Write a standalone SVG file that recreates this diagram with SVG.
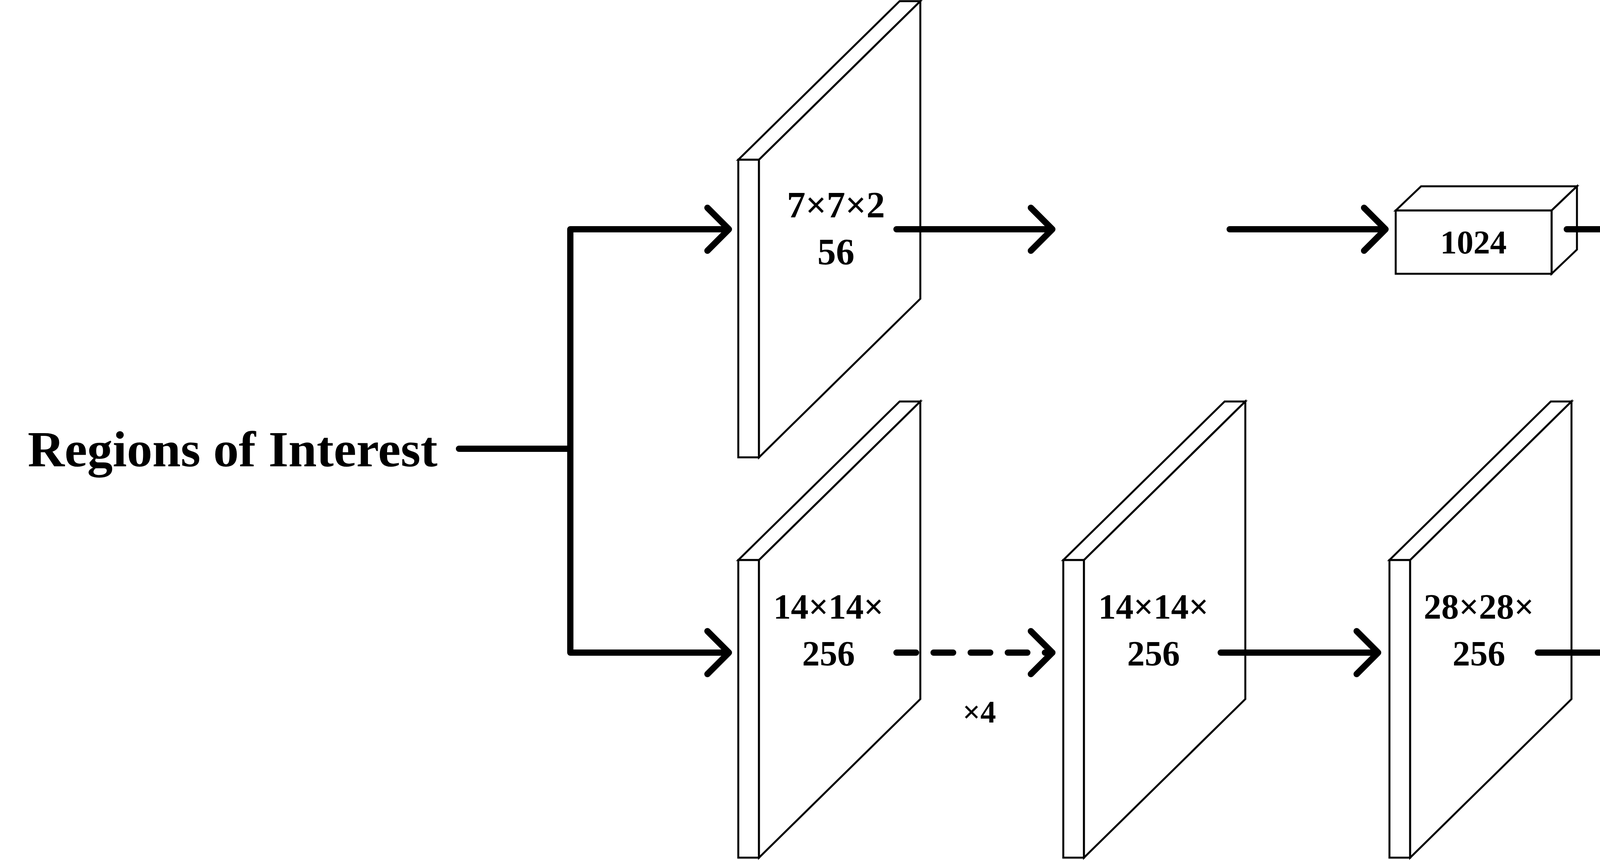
<svg xmlns="http://www.w3.org/2000/svg" width="5089" height="2202" viewBox="0 0 5089 2202">
<style>
.p{fill:#fff;stroke:#000;stroke-width:5;stroke-linejoin:miter}
.t{font-family:"Liberation Serif","Times New Roman",serif;font-weight:bold;fill:#000}
.c{fill:none;stroke:#000;stroke-width:16;stroke-linecap:round;stroke-linejoin:round}
</style>
<defs>
<g id="panel">
<polygon class="p" points="0,406 413,0 466,0 53,406"/>
<rect class="p" x="0" y="406" width="53" height="762"/>
<polygon class="p" points="53,406 466,0 466,762 53,1168"/>
</g>
</defs>
<rect width="5089" height="2202" fill="#fff"/>
<g id="roi"><text class="t" x="71" y="1194" font-size="130" textLength="1049" lengthAdjust="spacingAndGlyphs">Regions of Interest</text></g>
<g id="p1"><use href="#panel" x="1890" y="3"/>
<text class="t" x="2140" y="557" font-size="95" text-anchor="middle">7×7×2</text>
<text class="t" x="2140" y="677" font-size="95" text-anchor="middle">56</text></g>
<g id="p2"><use href="#panel" x="1890" y="1028"/>
<text class="t" x="2121" y="1584" font-size="90" text-anchor="middle">14×14×</text>
<text class="t" x="2121" y="1704" font-size="90" text-anchor="middle">256</text></g>
<g id="p3"><use href="#panel" x="2722" y="1028"/>
<text class="t" x="2953" y="1584" font-size="90" text-anchor="middle">14×14×</text>
<text class="t" x="2953" y="1704" font-size="90" text-anchor="middle">256</text></g>
<g id="p4"><use href="#panel" x="3557" y="1028"/>
<text class="t" x="3786" y="1584" font-size="90" text-anchor="middle">28×28×</text>
<text class="t" x="3786" y="1704" font-size="90" text-anchor="middle">256</text></g>
<g id="p5"><use href="#panel" x="4372" y="1028"/>
<text class="t" x="4596" y="1584" font-size="90" text-anchor="middle">28×28×</text>
<text class="t" x="4511" y="1704" font-size="90" text-anchor="middle">80</text></g>
<g id="fc">
<polygon class="p" points="3573,539 3638,477 4037,477 3972,539"/>
<polygon class="p" points="3972,539 4037,477 4037,639 3972,701"/>
<rect class="p" x="3573" y="539" width="399" height="162"/>
<text class="t" x="3772" y="649" font-size="85" text-anchor="middle">1024</text></g>
<g id="labels">
<text class="t" x="4462" y="487" font-size="105">class</text>
<text class="t" x="4492" y="746" font-size="105">box</text>
<text class="t" x="2507" y="1850" font-size="80" text-anchor="middle">×4</text>
<text class="t" x="4745" y="2077" font-size="100">mask</text>
</g>
<g id="connectors">
<path class="c" d="M1175,1149 H1460 M1460,587 V1671 M1460,587 H1866 M1811,532 L1866,587 L1811,642 M1460,1671 H1866 M1811,1616 L1866,1671 L1811,1726"/>
<path class="c" d="M2295,587 H2694 M2639,532 L2694,587 L2639,642"/>
<path class="c" d="M3148,587 H3547 M3492,532 L3547,587 L3492,642"/>
<path class="c" d="M4011,587 H4187 M4187,458 V717 M4187,458 H4349 M4294,403 L4349,458 L4294,513 M4187,717 H4349 M4294,662 L4349,717 L4294,772"/>
<path class="c" d="M2295,1671 H2694" stroke-dasharray="50,45" stroke-linecap="butt"/>
<path class="c" d="M2639,1616 L2694,1671 L2639,1726"/>
<path class="c" d="M3125,1671 H3528 M3473,1616 L3528,1671 L3473,1726"/>
<path class="c" d="M3937,1671 H4342 M4287,1616 L4342,1671 L4287,1726"/>
</g>
</svg>
